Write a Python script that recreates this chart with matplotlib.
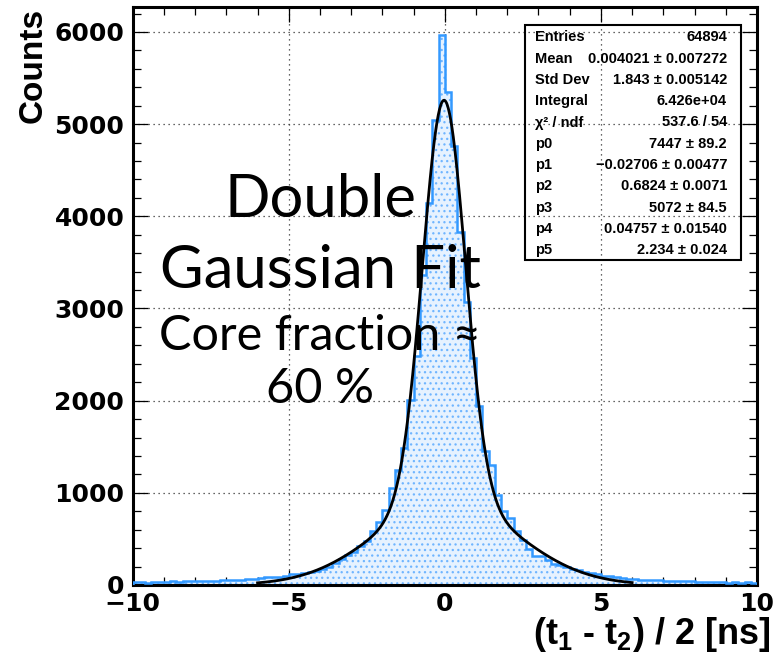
import numpy as np
import matplotlib
matplotlib.use("Agg")
import matplotlib.pyplot as plt
from matplotlib.patches import Rectangle

# ---------------- data ----------------
bin_lo, bin_hi, n_bins = -10.0, 10.0, 100
counts = [
    # -10 .. -9
    28, 30, 27, 32, 30,
    # -9 .. -8
    36, 38, 35, 40, 38,
    # -8 .. -7
    44, 46, 43, 48, 50,
    # -7 .. -6
    55, 53, 58, 65, 68,
    # -6 .. -5
    80, 84, 88, 92, 100,
    # -5 .. -4
    115, 122, 130, 142, 155,
    # -4 .. -3
    175, 190, 240, 287, 330,
    # -3 .. -2
    356, 421, 475, 583, 681,
    # -2 .. -1
    818, 1053, 1251, 1486, 2010,
    # -1 .. 0
    2479, 3364, 4141, 5043, 5972,
    # 0 .. 1
    5350, 4765, 3833, 3075, 2461,
    # 1 .. 2
    1937, 1450, 1305, 980, 800,
    # 2 .. 3
    728, 583, 493, 395, 320,
    # 3 .. 4
    312, 276, 233, 215, 195,
    # 4 .. 5
    175, 160, 145, 130, 122,
    # 5 .. 6
    102, 96, 90, 76, 70,
    # 6 .. 7
    66, 55, 52, 54, 50,
    # 7 .. 8
    47, 45, 48, 44, 38,
    # 8 .. 9
    35, 37, 34, 33, 29,
    # 9 .. 10
    27, 30, 26, 28, 25,
]
fit_range = (-6.0, 6.0)
fit_params = [7447, -0.02706, 0.6824, 5072, 0.04757, 2.234]

stat_labels = ["Entries", "Mean", "Std Dev", "Integral", "χ² / ndf",
               "p0", "p1", "p2", "p3", "p4", "p5"]
stat_values = ["64894", "0.004021 ± 0.007272", "1.843 ± 0.005142", "6.426e+04",
               "537.6 / 54", "7447 ± 89.2", "−0.02706 ± 0.00477", "0.6824 ± 0.0071",
               "5072 ± 84.5", "0.04757 ± 0.01540", "2.234 ± 0.024"]

x_label = r"(t$_{\mathbf{1}}$ - t$_{\mathbf{2}}$) / 2 [ns]"
y_label = "Counts"
annot_lines = ["Double", "Gaussian Fit", "Core fraction ≈", "60 %"]

# ---------------- figure ----------------
W, H = 779, 663
fig = plt.figure(figsize=(W / 100, H / 100), dpi=100)
plt.rcParams['mathtext.fontset'] = 'custom'
plt.rcParams['mathtext.bf'] = 'Liberation Sans:bold'
plt.rcParams['mathtext.rm'] = 'Liberation Sans:bold'
plt.rcParams['hatch.linewidth'] = 0.9

def fx(px): return px / W
def fy(py): return 1 - py / H

ax_l, ax_r, ax_t, ax_b = 132.7, 757.0, 7.0, 585.0
ax = fig.add_axes([fx(ax_l), fy(ax_b), fx(ax_r) - fx(ax_l), (ax_b - ax_t) / H])

edges = np.linspace(bin_lo, bin_hi, n_bins + 1)
vals = np.array(counts, dtype=float)

ax.stairs(vals, edges, fill=True, facecolor='#e6f2ff', edgecolor='#6fb5ff',
          hatch='...', linewidth=0, zorder=1)
ax.stairs(vals, edges, fill=False, color='#3399ff', linewidth=1.8, zorder=3)

p0, p1, p2, p3, p4, p5 = fit_params
xf = np.linspace(fit_range[0], fit_range[1], 600)
yf = (p0 / (np.sqrt(2 * np.pi) * p2) * np.exp(-0.5 * ((xf - p1) / p2) ** 2)
      + p3 / (np.sqrt(2 * np.pi) * p5) * np.exp(-0.5 * ((xf - p4) / p5) ** 2))
ax.plot(xf, yf, color='black', linewidth=2.0, zorder=4)

ax.set_xlim(bin_lo, bin_hi)
ax.set_ylim(0, 1.05 * max(counts))

ax.set_xticks([-10, -5, 0, 5, 10])
ax.set_xticks(np.arange(-10, 11, 1), minor=True)
ax.set_yticks([0, 1000, 2000, 3000, 4000, 5000, 6000])
ax.set_yticks(np.arange(0, 6300, 200), minor=True)
ax.grid(True, which='major', linestyle=(0, (1, 3)), color='#333333', linewidth=0.9, zorder=0)
ax.set_axisbelow(True)

ax.tick_params(which='both', direction='in', top=True, right=True, width=0.9)
ax.tick_params(which='major', length=11)
ax.tick_params(which='minor', length=5.5)
ax.tick_params(axis='x', pad=5)
ax.tick_params(axis='y', pad=6)
for lab in ax.get_xticklabels() + ax.get_yticklabels():
    lab.set_fontfamily('DejaVu Sans')
    lab.set_fontweight('bold')
    lab.set_fontsize(18)
for s in ax.spines.values():
    s.set_linewidth(2.2)

# axis titles
fig.text(fx(770), fy(634), x_label, ha='right', va='center',
         fontsize=26, fontweight='bold', family='Liberation Sans')
fig.text(fx(33), fy(8), y_label, ha='center', va='top', rotation=90,
         fontsize=24, fontweight='bold', family='Liberation Sans')

# annotation
ann_y = [216.7, 288.3, 350.0, 403.3]
ann_size = [43, 43, 35, 35]
for t, yy, sz in zip(annot_lines, ann_y, ann_size):
    fig.text(fx(320), fy(yy), t, ha='center', va='baseline', fontsize=sz,
             family=['Lato', 'DejaVu Sans'], fontweight='normal', zorder=5)

# stats box
bx0, bx1, by0, by1 = 525, 741, 24.7, 260
fig.patches.append(Rectangle((fx(bx0), fy(by1)), fx(bx1) - fx(bx0), (by1 - by0) / H,
                             transform=fig.transFigure, fill=False,
                             edgecolor='black', linewidth=1.5, zorder=6))
for i, (lab, val) in enumerate(zip(stat_labels, stat_values)):
    yy = 37.3 + i * 21.3
    fig.text(fx(535), fy(yy), lab, ha='left', va='center', fontsize=10.5,
             fontweight='bold', family=['Liberation Sans', 'DejaVu Sans'])
    fig.text(fx(727), fy(yy), val, ha='right', va='center', fontsize=10.5,
             fontweight='bold', family=['Liberation Sans', 'DejaVu Sans'])

fig.savefig("out.png", dpi=100)
